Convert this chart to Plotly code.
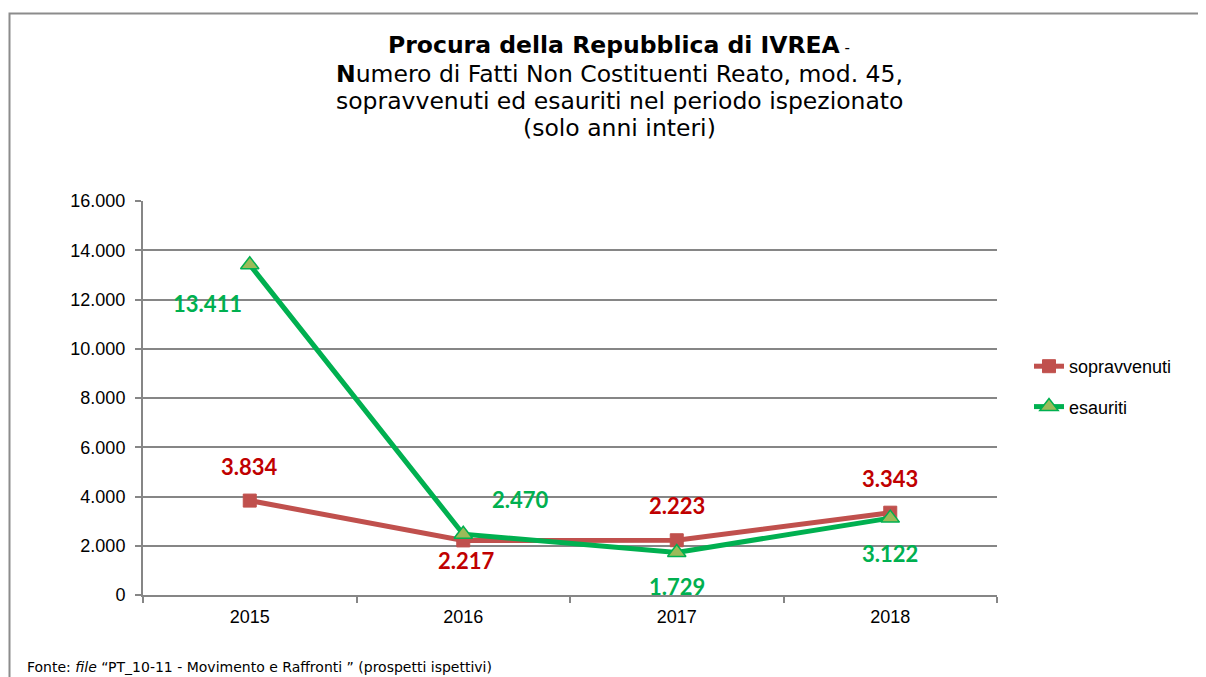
import plotly.graph_objects as go

# dati
anni = ["2015", "2016", "2017", "2018"]
sopravvenuti = [3834, 2217, 2223, 3343]
esauriti = [13411, 2470, 1729, 3122]

# etichette dati: spostamenti in pixel rispetto al punto
shift_sopr = [(0, 34), (3, -20), (0, 35), (0, 34)]
shift_esau = [(-42, -39), (57, 35), (0, -34), (0, -35)]

W, H = 1206, 677
OFF = 8  # margine del body della pagina
x0, x1 = 143 - OFF, 997 - OFF
y_top, y_bot = 201 - OFF, 595 - OFF

fig = go.Figure()

fig.add_trace(go.Scatter(
    x=anni, y=sopravvenuti, name="sopravvenuti", mode="lines+markers",
    line=dict(color="#C0504D", width=5),
    marker=dict(symbol="square", size=13, color="#C0504D", line=dict(color="#C0504D", width=1)),
    legendgroup="a",
))
fig.add_trace(go.Scatter(
    x=anni, y=esauriti, name="esauriti", mode="lines+markers",
    line=dict(color="#00B050", width=5),
    marker=dict(symbol="triangle-up", size=16, color="#9BBB59", line=dict(color="#00B050", width=1.5)),
    legendgroup="b",
))

def fmt(v):
    return f"{v:,}".replace(",", ".")

# categorie per indice (una stringa "2015" verrebbe letta come numero)
for i, (v, (dx, dy)) in enumerate(zip(sopravvenuti, shift_sopr)):
    fig.add_annotation(x=i, y=v, text=f"<b>{fmt(v)}</b>", showarrow=False,
                       xshift=dx, yshift=dy,
                       font=dict(family="Lato", size=22, color="#C00000"))
for i, (v, (dx, dy)) in enumerate(zip(esauriti, shift_esau)):
    fig.add_annotation(x=i, y=v, text=f"<b>{fmt(v)}</b>", showarrow=False,
                       xshift=dx, yshift=dy,
                       font=dict(family="Lato", size=22, color="#00B050"))

# titolo
tfont = dict(family="DejaVu Sans", size=23.5, color="black")
righe = [
    (45, "<b>Procura della Repubblica di IVREA</b><span style='font-size:15px'> -</span>"),
    (74, "<b>N</b>umero di Fatti Non Costituenti Reato, mod. 45,"),
    (101, "sopravvenuti ed esauriti nel periodo ispezionato"),
    (128, "(solo anni interi)"),
]
for yy, t in righe:
    fig.add_annotation(x=(619 - OFF) / W, y=1 - (yy - OFF) / H, xref="paper", yref="paper", text=t,
                       showarrow=False, xanchor="center", yanchor="middle", font=tfont)

fig.add_annotation(x=(25 - OFF) / W, y=1 - (667 - OFF) / H, xref="paper", yref="paper",
                   text="Fonte: <i>file</i> \u201cPT_10-11 - Movimento e Raffronti \u201d (prospetti ispettivi)",
                   showarrow=False, xanchor="left", yanchor="middle",
                   font=dict(family="DejaVu Sans", size=14, color="black"))

# cornice
fig.add_shape(type="rect", xref="paper", yref="paper",
              x0=(8.5 - OFF + 1) / W, x1=1.02, y0=-0.02, y1=1 - (12.5 - OFF + 1) / H,
              line=dict(color="#8C8C8C", width=2))

fig.update_layout(
    width=W, height=H,
    margin=dict(l=0, r=0, t=0, b=0, autoexpand=False),
    paper_bgcolor="white", plot_bgcolor="white",
    separators=",.",
    showlegend=True,
    legend=dict(x=(1029 - OFF) / W, y=1 - (348 - OFF) / H, xanchor="left", yanchor="top",
                font=dict(family="Liberation Sans", size=18, color="black"),
                tracegroupgap=14, bgcolor="rgba(0,0,0,0)"),
    xaxis=dict(
        domain=[x0 / W, x1 / W], type="category", range=[-0.5, 3.5],
        showline=True, linecolor="#868686", linewidth=2,
        ticks="outside", tickson="boundaries", ticklen=6, tickcolor="#868686", tickwidth=2,
        ticklabelstandoff=4,
        showgrid=False, tickfont=dict(family="Liberation Sans", size=18, color="black"),
    ),
    yaxis=dict(
        domain=[1 - y_bot / H, 1 - y_top / H], range=[0, 16000], dtick=2000,
        tickformat=",d", showline=True, linecolor="#868686", linewidth=2,
        ticks="outside", ticklen=6, tickcolor="#868686", tickwidth=2,
        ticklabelstandoff=6,
        showgrid=True, gridcolor="#868686", gridwidth=1.5, zeroline=False,
        tickfont=dict(family="Liberation Sans", size=18, color="black"),
    ),
)

fig.write_html("out.html")
